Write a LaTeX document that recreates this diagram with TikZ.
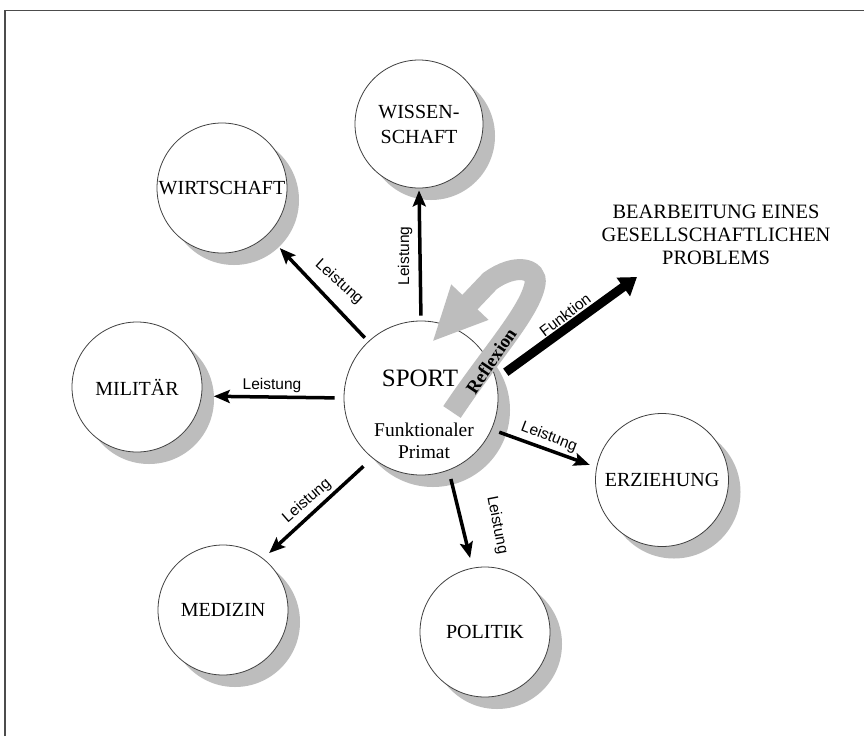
\documentclass[tikz,border=0pt]{standalone}
\usepackage{fontspec}
\setmainfont{Liberation Serif}
\setsansfont{Liberation Sans}
\usetikzlibrary{arrows.meta,shadows}
\begin{document}
\begin{tikzpicture}[x=1pt,y=-1pt,
  sphere/.style={circle, draw=black!75, line width=0.8pt, fill=white,
    minimum size=#1, inner sep=0pt, align=center,
    font=\fontsize{20}{25}\selectfont,
    drop shadow={shadow xshift=12pt, shadow yshift=-12pt, opacity=1, fill=black!26}},
  leist/.style={-{Stealth[length=16pt,width=13pt,inset=3pt]}, line width=3.5pt, black},
  lbl/.style={font=\sffamily\fontsize{15.5}{15.5}\selectfont, inner sep=0pt},
  frameline/.style={black!70, line width=1.5pt}]
\useasboundingbox (0,0) rectangle (864,736);
\fill[white] (0,0) rectangle (864,736);
\draw[frameline] (5,736) -- (5,10.5) -- (864,10.5);

% subsystems around sport
\node[sphere=154pt] (sport) at (421,398) {};
\node[sphere=128pt] (wiss) at (419,124) {WISSEN-\\SCHAFT};
\node[sphere=130pt] (wirt) at (222,188) {WIRTSCHAFT};
\node[sphere=130pt] (mil)  at (137,387) {MILITÄR};
\node[sphere=130pt] (med)  at (223,610) {MEDIZIN};
\node[sphere=130pt] (pol)  at (485,632) {POLITIK};
\node[sphere=133pt] (erz)  at (662,480) {ERZIEHUNG};

\node[font=\fontsize{25}{28}\selectfont] (sporttitle) at (420,378) {SPORT};
\node[font=\fontsize{19.5}{22}\selectfont, align=center] (sportsub) at (424,441) {Funktionaler\\Primat};

\node[font=\fontsize{20.4}{23}\selectfont, align=center] (problem) at (716,235)
  {BEARBEITUNG EINES\\GESELLSCHAFTLICHEN\\PROBLEMS};

% self-reference loop
\coordinate (reflstart) at (452,412);
\coordinate (refltip) at (432,342);
\draw[black!26, line width=21pt, line cap=butt,
      -{Triangle[length=55pt,width=47pt]}]
  (reflstart) .. controls (490,355) and (530,312) .. (535,284)
  .. controls (538,268) and (515,263) .. (490,281) -- (refltip);
\node[font=\bfseries\fontsize{18.5}{18.5}\selectfont, rotate=56] (refl) at (491,361) {Reflexion};

% performance relations
\draw[leist, shorten <=5pt, shorten >=2pt] (sport.90) -- (wiss.-90);
\draw[leist, shorten <=5pt, shorten >=18pt] (sport.133) -- (wirt.-46);
\draw[leist, shorten <=9pt, shorten >=12pt] (sport.180) -- (mil.-8);
\draw[leist, shorten <=12pt, shorten >=8pt] (sport.231) -- (med.52);
\draw[leist, shorten <=9pt, shorten >=10pt] (sport.-69) -- (pol.101);
\draw[leist, shorten <=8pt, shorten >=7pt] (sport.-24) -- (erz.169);

\node[lbl, rotate=90]  (lwiss) at (405,256) {Leistung};
\node[lbl, rotate=-42] (lwirt) at (339,282) {Leistung};
\node[lbl]             (lmil)  at (272,385) {Leistung};
\node[lbl, rotate=41]  (lmed)  at (307,501) {Leistung};
\node[lbl, rotate=-79] (lpol)  at (497,525) {Leistung};
\node[lbl, rotate=-21] (lerz)  at (549,437) {Leistung};

% function relation
\coordinate (funtip) at (637,277);
\draw[line width=9pt, -{Triangle[length=17pt,width=22pt]}, shorten <=12pt]
  (sport.14) -- (funtip);
\node[lbl, rotate=37] (lfun) at (565,315) {Funktion};
\end{tikzpicture}
\end{document}
